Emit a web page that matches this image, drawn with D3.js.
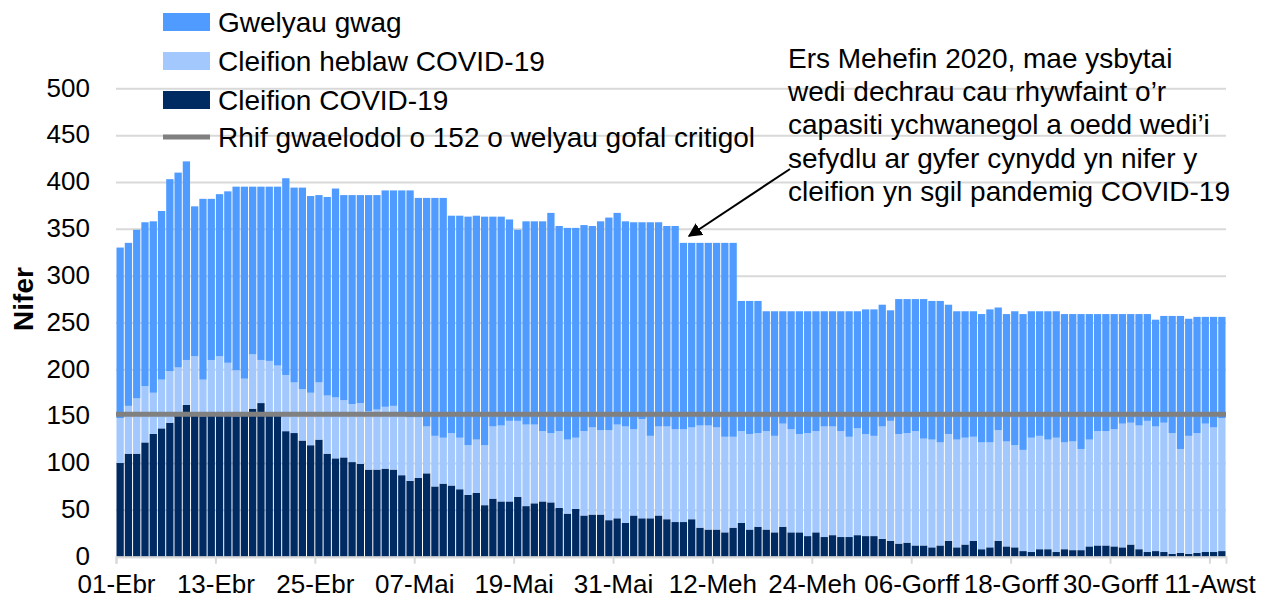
<!DOCTYPE html>
<html><head><meta charset="utf-8">
<script src="https://cdn.jsdelivr.net/npm/d3@7"></script>
<style>body{margin:0;background:#fff}svg{display:block}text{font-family:"Liberation Sans",Arial,sans-serif;fill:#000}</style>
</head><body><svg id="c" width="1264" height="599"></svg>
<script>
const startDate = new Date(2020, 3, 1);
const tickLabels = ["01-Ebr","13-Ebr","25-Ebr","07-Mai","19-Mai","31-Mai","12-Meh","24-Meh","06-Gorff","18-Gorff","30-Gorff","11-Awst"];
const yTicks = [0,50,100,150,200,250,300,350,400,450,500];
const seriesNames = ["Gwelyau gwag","Cleifion heblaw COVID-19","Cleifion COVID-19"];
const thresholdName = "Rhif gwaelodol o 152 o welyau gofal critigol";
const thresholdValue = 152;
const covid = [100,110,110,122,131,137,143,151,162,152,150,151,153,152,150,151,158,164,153,151,
134,132,124,119,125,110,105,106,101,99,93,93,94,93,87,81,84,89,75,78,
76,72,66,68,55,62,59,59,64,54,57,59,58,52,46,51,44,45,45,39,
41,36,44,41,41,44,40,37,37,40,31,29,29,26,31,36,29,32,29,26,
32,26,26,22,26,21,23,21,21,23,22,22,19,17,14,15,12,12,10,12,
17,10,13,17,8,10,17,11,10,6,5,8,8,5,8,7,7,11,12,12,
11,10,13,8,5,6,5,3,4,3,4,5,5,6];
const nonCovid = [48,51,59,60,44,52,55,51,48,62,39,59,61,55,49,39,58,46,56,53,
60,54,55,56,61,62,65,61,62,65,62,64,66,68,63,68,65,50,54,49,
56,55,53,57,64,77,81,86,81,87,84,75,74,82,79,76,90,93,90,96,
100,103,92,106,88,95,99,99,99,98,109,111,109,102,97,98,102,100,105,103,
110,110,105,110,108,118,116,113,107,114,109,107,120,128,117,117,122,114,115,110,
114,115,114,111,114,112,118,112,109,108,122,121,117,122,114,116,108,114,122,122,
125,132,130,132,140,133,138,129,111,126,128,137,133,142];
const emptyBeds = [182,174,180,175,183,180,205,208,212,160,193,172,173,183,196,205,179,185,186,191,
210,208,215,210,200,212,223,219,223,222,231,229,231,230,241,242,234,244,254,256,
232,237,244,239,244,224,223,215,204,217,217,224,235,219,226,224,220,215,223,227,
226,219,221,210,228,218,214,217,199,197,195,195,197,207,207,139,142,141,128,133,
120,126,131,130,128,123,123,128,134,125,133,135,130,118,144,143,141,149,148,151,
138,137,135,134,137,142,131,136,143,145,135,133,137,135,137,136,144,134,125,125,
123,117,116,119,114,114,114,125,142,125,124,114,118,108];
const annotationLines = ["Ers Mehefin 2020, mae ysbytai","wedi dechrau cau rhywfaint o\u2019r","capasiti ychwanegol a oedd wedi\u2019i","sefydlu ar gyfer cynydd yn nifer y","cleifion yn sgil pandemig COVID-19"];
const yTitle = "Nifer";

const colors = {empty:"#4f9bff", non:"#a2c8fe", covid:"#002a62", line:"#808080", grid:"#d9d9d9"};
const svg = d3.select("#c");
const L = 116, R = 1226, T = 88.3, B = 556.7;
const n = covid.length;
const days = d3.range(n).map(i => d3.timeDay.offset(startDate, i));
const x = d3.scaleBand().domain(days).range([L, R]).paddingInner(0.12).paddingOuter(0.06);
const xl = d3.scaleLinear().domain([0, n]).range([L, R]);
const y = d3.scaleLinear().domain([0, 500]).range([B, T]);
const FS = 28, AFS = 26;

// grid
svg.append("g").attr("transform", `translate(${L},0)`)
  .call(d3.axisLeft(y).tickValues(yTicks).tickSize(-(R - L)).tickFormat(""))
  .call(g => { g.select(".domain").remove(); g.selectAll("line").attr("stroke", colors.grid).attr("stroke-width", 2); });

const rows = days.map((d, i) => ({date: d, covid: covid[i], non: nonCovid[i], empty: emptyBeds[i]}));
const stack = d3.stack().keys(["covid","non","empty"])(rows);
const fill = {covid: colors.covid, non: colors.non, empty: colors.empty};
svg.append("g").selectAll("g").data(stack).join("g").attr("fill", s => fill[s.key])
  .selectAll("rect").data(s => s).join("rect")
  .attr("x", d => x(d.data.date)).attr("width", x.bandwidth())
  .attr("y", d => y(d[1])).attr("height", d => y(d[0]) - y(d[1]));

// threshold line
svg.append("line").attr("x1", L).attr("x2", R).attr("y1", y(thresholdValue)).attr("y2", y(thresholdValue))
  .attr("stroke", colors.line).attr("stroke-width", 5);

// x axis
svg.append("g").attr("transform", `translate(0,${B})`)
  .call(d3.axisBottom(xl).tickValues(d3.range(0, n, 12)).tickSize(7).tickPadding(11).tickFormat((d, i) => tickLabels[i]))
  .call(g => { g.select(".domain").attr("stroke", colors.grid).attr("stroke-width", 2);
    g.selectAll("line").attr("stroke", colors.grid).attr("stroke-width", 2);
    g.selectAll("text").attr("font-size", AFS).attr("fill", "#000"); });

// y axis labels
svg.append("g").attr("transform", `translate(${L},0)`)
  .call(d3.axisLeft(y).tickValues(yTicks).tickSize(0).tickPadding(26))
  .call(g => { g.select(".domain").remove(); g.selectAll("text").attr("font-size", AFS).attr("dy", "0.3em").attr("fill", "#000"); });

svg.append("text").attr("transform", "translate(33,299) rotate(-90)").attr("text-anchor", "middle")
  .attr("font-size", FS).attr("font-weight", "bold").text(yTitle);

// legend
const legY = [22, 61, 100, 137];
const lg = svg.append("g");
[colors.empty, colors.non, colors.covid].forEach((c, i) => {
  lg.append("rect").attr("x", 163).attr("y", legY[i] - 9).attr("width", 47).attr("height", 18).attr("fill", c);
  lg.append("text").attr("x", 218).attr("y", legY[i]).attr("dy", "0.35em").attr("font-size", FS).text(seriesNames[i]);
});
lg.append("line").attr("x1", 163).attr("x2", 210).attr("y1", legY[3]).attr("y2", legY[3]).attr("stroke", colors.line).attr("stroke-width", 5);
lg.append("text").attr("x", 218).attr("y", legY[3]).attr("dy", "0.35em").attr("font-size", FS).text(thresholdName);

// annotation
const ann = svg.append("g");
annotationLines.forEach((t, i) => ann.append("text").attr("x", 788).attr("y", 58 + i * 33.3).attr("dy", "0.35em").attr("font-size", FS).text(t));
svg.append("defs").append("marker").attr("id", "ah").attr("viewBox", "0 0 10 10").attr("refX", 9).attr("refY", 5)
  .attr("markerWidth", 7).attr("markerHeight", 7).attr("orient", "auto")
  .append("path").attr("d", "M0,0 L10,5 L0,10 z").attr("fill", "#000");
svg.append("line").attr("x1", 790).attr("y1", 169).attr("x2", 689).attr("y2", 236)
  .attr("stroke", "#000").attr("stroke-width", 2).attr("marker-end", "url(#ah)");
</script></body></html>
